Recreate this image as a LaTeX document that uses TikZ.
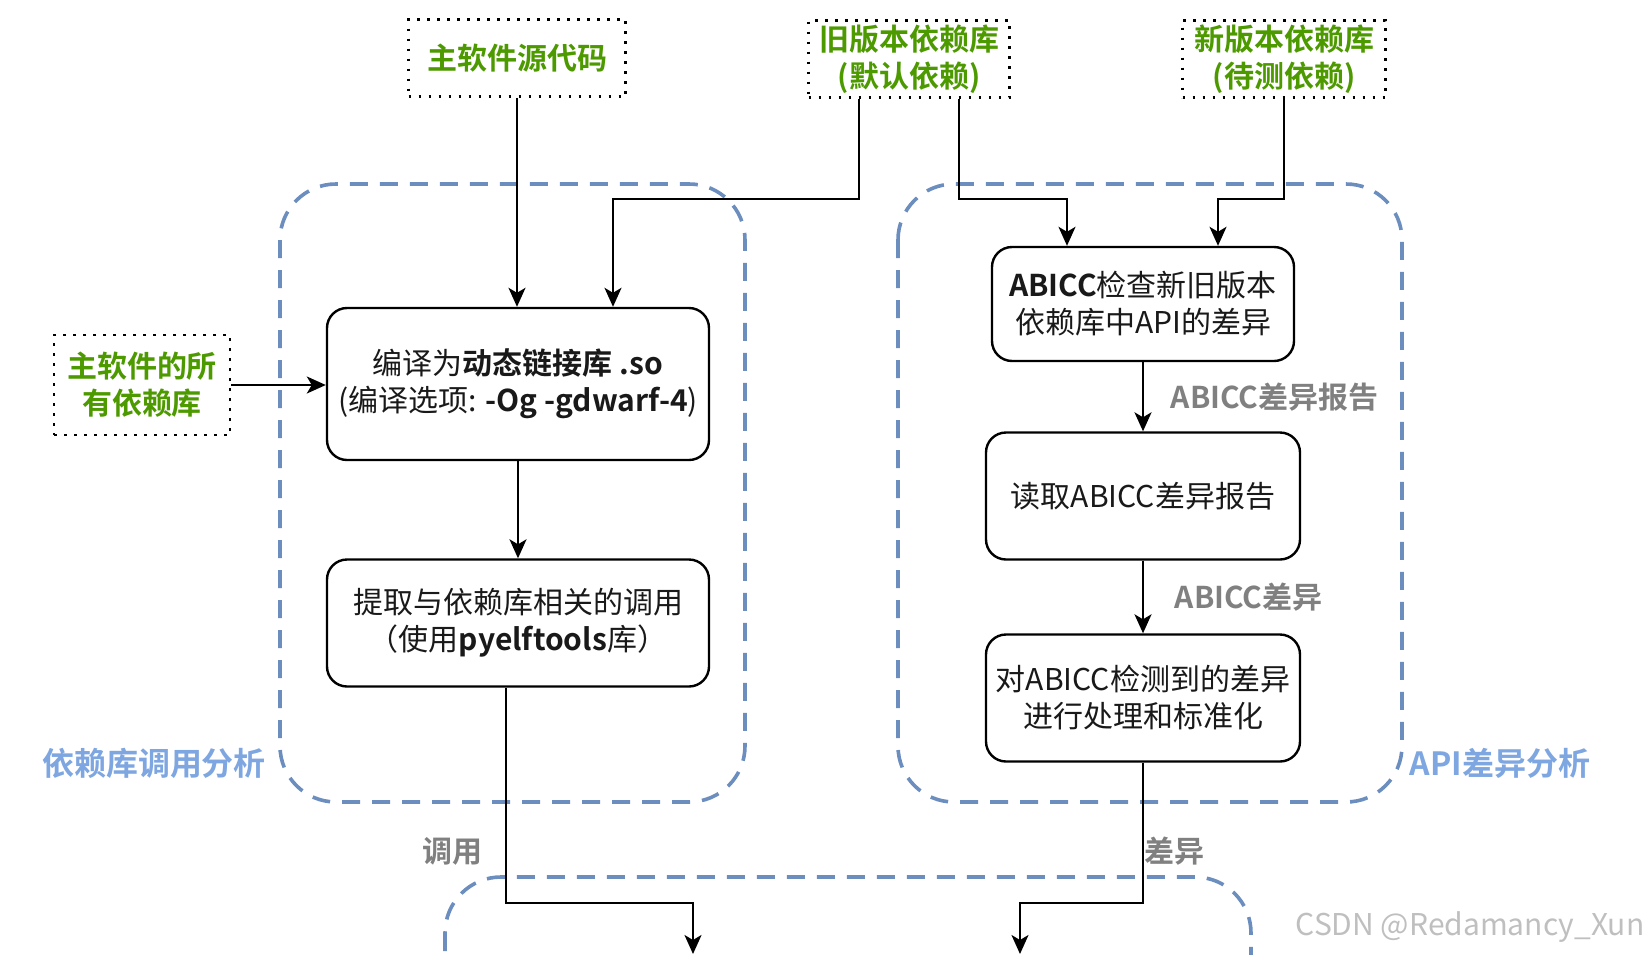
\documentclass[tikz,border=0pt]{standalone}
\usepackage{fontspec}
\setmainfont{Noto Sans CJK SC}[BoldFont={Noto Sans CJK SC Bold}]
\usetikzlibrary{arrows.meta}
\definecolor{srcgreen}{RGB}{77,153,0}
\definecolor{grpblue}{RGB}{108,142,191}
\definecolor{grplabel}{RGB}{126,166,224}

\begin{document}
\begin{tikzpicture}[x=0.5pt,y=-0.5pt,
  every node/.style={font=\fontsize{15pt}{18.5pt}\selectfont},
  inbox/.style={draw,dash pattern=on 1.3pt off 3.7pt,line width=1.3pt,text=srcgreen,
    font=\fontsize{15pt}{18.5pt}\selectfont\bfseries,align=center,inner sep=0pt,minimum height=38.5pt},
  stepbox/.style={draw,rounded corners=10pt,line width=1.2pt,align=center,inner sep=0pt,text=black!90},
  group/.style={draw=grpblue,line width=1.8pt,dash pattern=on 9pt off 6pt,rounded corners=28pt},
  grouplabel/.style={text=grplabel,font=\fontsize{16pt}{20pt}\selectfont\bfseries},
  elabel/.style={text=black!50,font=\fontsize{15pt}{18pt}\selectfont\bfseries},
  arr/.style={-{Stealth[length=9.5pt,width=8.5pt,inset=2.5pt]},line width=1.1pt}]
          \useasboundingbox (0,0) rectangle (1645,954);
          \clip (0,0) rectangle (1645,954);

          \draw[group] (280,184) rectangle (745,802);
          \draw[group] (898,184) rectangle (1402,802);
          \draw[group] (445,877) rectangle (1251,1020);
          \node[grouplabel] (callgrp) at (154,763) {依赖库调用分析};
          \node[grouplabel] (apigrp) at (1500,763) {API差异分析};

          \node[inbox,minimum width=108.5pt] (src) at (517,58) {主软件源代码};
          \node[inbox,minimum width=100.5pt] (oldlib) at (909,59) {旧版本依赖库\\(默认依赖)};
          \node[inbox,minimum width=101.5pt] (newlib) at (1284,59) {新版本依赖库\\(待测依赖)};
          \node[inbox,minimum width=88pt,minimum height=50pt] (alldeps) at (142,385) {主软件的所\\有依赖库};

          \node[stepbox,minimum width=191pt,minimum height=76pt] (compile) at (518,384)
            {编译为\textbf{动态链接库 .so}\\(编译选项: \textbf{-Og -gdwarf-4})};
          \node[stepbox,minimum width=191pt,minimum height=63.5pt] (extract) at (518,623)
            {提取与依赖库相关的调用\\（使用\textbf{pyelftools}库）};
          \node[stepbox,minimum width=151pt,minimum height=57pt] (abicc) at (1143,304)
            {\textbf{ABICC}检查新旧版本\\依赖库中API的差异};
          \node[stepbox,minimum width=157pt,minimum height=63.5pt] (readrep) at (1143,496)
            {读取ABICC差异报告};
          \node[stepbox,minimum width=157pt,minimum height=63.5pt] (norm) at (1143,698)
            {对ABICC检测到的差异\\进行处理和标准化};

          \coordinate (callend) at (693,954);
          \coordinate (diffend) at (1020,954);

          \draw[arr] (src) -- (src |- compile.north);
          \draw[arr] ([xshift=-25pt]oldlib.south) -- ++(0,100) -| ([xshift=47.5pt]compile.north);
          \draw[arr] ([xshift=25pt]oldlib.south) -- ++(0,100) -| ([xshift=-38pt]abicc.north);
          \draw[arr] (newlib.south) -- ++(0,100) -| ([xshift=37.5pt]abicc.north);
          \draw[arr] (alldeps.east) -- (alldeps.east -| compile.west);
          \draw[arr] (compile) -- (extract);
          \draw[arr] (abicc) -- node[elabel,right,xshift=10pt]{ABICC差异报告} (readrep);
          \draw[arr] (readrep) -- node[elabel,right,xshift=12pt]{ABICC差异} (norm);
          \draw[arr] ([xshift=-6pt]extract.south) -- node[elabel,left,pos=0.76,xshift=-8pt]{调用} ++(0,215) -| (callend);
          \draw[arr] (norm.south) -- node[elabel,right,pos=0.63,inner sep=0pt]{差异} ++(0,140) -| (diffend);

          \node[text=black!25,font=\fontsize{15pt}{18pt}\selectfont] (mark) at (1470,927) {CSDN @Redamancy\_Xun};
        \end{tikzpicture}
\end{document}
